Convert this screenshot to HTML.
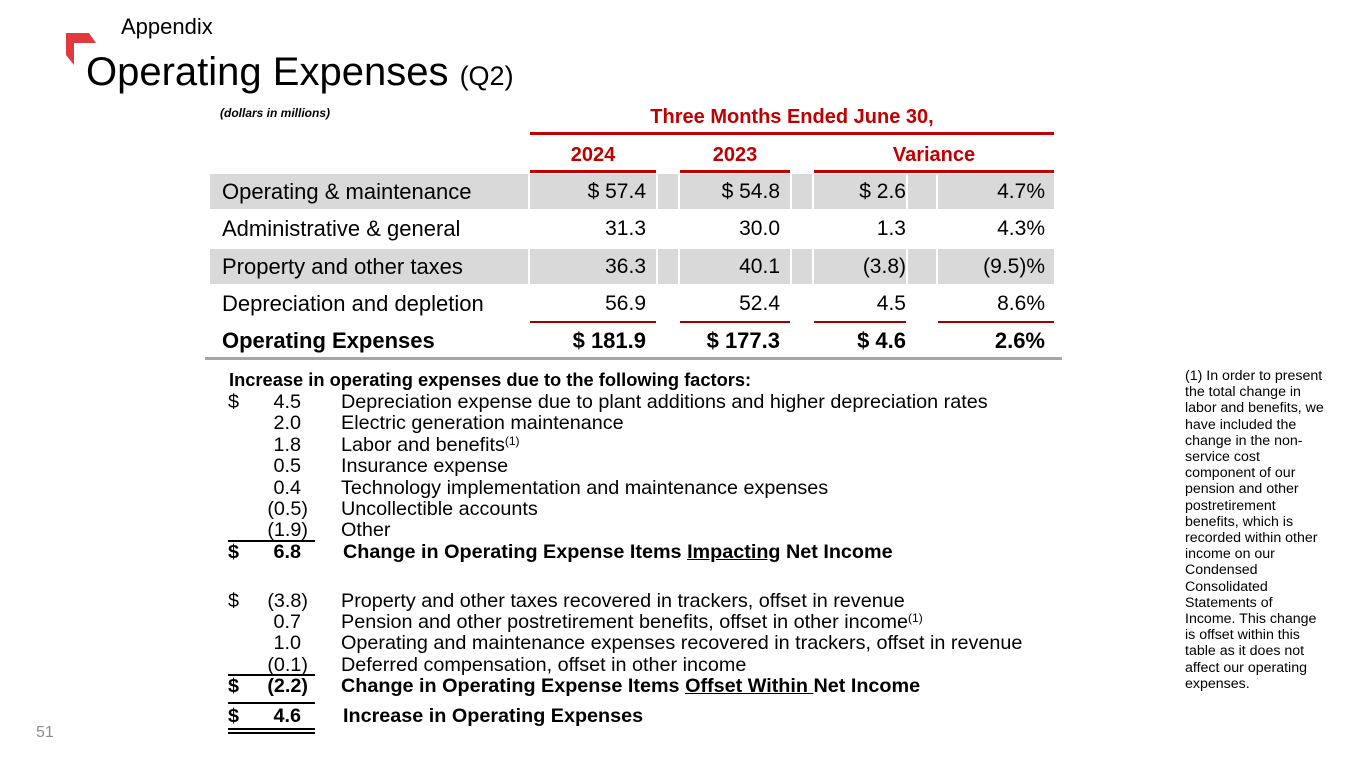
<!DOCTYPE html>
<html><head><meta charset="utf-8"><style>
*{margin:0;padding:0;box-sizing:border-box}
body{width:1365px;height:768px;background:#fff;position:relative;overflow:hidden;font-family:"Liberation Sans",Arial,sans-serif;color:#000}
.a{position:absolute;white-space:nowrap}
.cell{position:absolute;background:#d9d9d9}
.t{position:absolute;font-size:21px;line-height:24px;white-space:nowrap}
.l{font-size:22px}
.r{text-align:right}
.red{background:#c00000;position:absolute}
.f{position:absolute;font-size:19.8px;line-height:21px;white-space:nowrap}
.n{position:absolute;font-size:19.8px;line-height:21px;white-space:nowrap;text-align:right;width:80px}
sup{font-size:12px;line-height:0;vertical-align:6px}
.ul{position:absolute;height:1.5px;background:#000;left:228px;width:87px}
</style></head><body>
<div class="a" style="left:66px;top:33px;width:30px;height:32px">
<svg width="30" height="32"><polygon points="0,0 23,0 30,10 8,10 8,32 0,22" fill="#e03a3e"/></svg></div>
<div class="a" style="left:121px;top:14px;font-size:22px">Appendix</div>
<div class="a" style="left:86px;top:49px;font-size:40px;line-height:46px">Operating Expenses <span style="font-size:27px">(Q2)</span></div>
<div class="a" style="left:220px;top:106px;font-size:12px;font-style:italic;font-weight:bold">(dollars in millions)</div>

<div class="a" style="left:530px;width:524px;top:106px;text-align:center;color:#c00000;font-weight:bold;font-size:20px">Three Months Ended June 30,</div>
<div class="red" style="left:530px;top:132px;width:524px;height:3px"></div>
<div class="a" style="left:530px;width:126px;top:144px;text-align:center;color:#c00000;font-weight:bold;font-size:20px">2024</div>
<div class="a" style="left:680px;width:110px;top:144px;text-align:center;color:#c00000;font-weight:bold;font-size:20px">2023</div>
<div class="a" style="left:814px;width:240px;top:144px;text-align:center;color:#c00000;font-weight:bold;font-size:20px">Variance</div>
<div class="red" style="left:530px;top:170px;width:126px;height:3px"></div>
<div class="red" style="left:680px;top:170px;width:110px;height:3px"></div>
<div class="red" style="left:814px;top:170px;width:240px;height:3px"></div>

<div>
<div class="cell" style="left:210px;top:174px;width:318px;height:35px"></div>
<div class="cell" style="left:530px;top:174px;width:126px;height:35px"></div>
<div class="cell" style="left:658px;top:174px;width:20px;height:35px"></div>
<div class="cell" style="left:680px;top:174px;width:110px;height:35px"></div>
<div class="cell" style="left:792px;top:174px;width:20px;height:35px"></div>
<div class="cell" style="left:814px;top:174px;width:92px;height:35px"></div>
<div class="cell" style="left:908px;top:174px;width:28px;height:35px"></div>
<div class="cell" style="left:938px;top:174px;width:116px;height:35px"></div>
</div>
<div>
<div class="cell" style="left:210px;top:249px;width:318px;height:35px"></div>
<div class="cell" style="left:530px;top:249px;width:126px;height:35px"></div>
<div class="cell" style="left:658px;top:249px;width:20px;height:35px"></div>
<div class="cell" style="left:680px;top:249px;width:110px;height:35px"></div>
<div class="cell" style="left:792px;top:249px;width:20px;height:35px"></div>
<div class="cell" style="left:814px;top:249px;width:92px;height:35px"></div>
<div class="cell" style="left:908px;top:249px;width:28px;height:35px"></div>
<div class="cell" style="left:938px;top:249px;width:116px;height:35px"></div>
</div>

<div>
<div class="t l" style="left:222px;top:180px">Operating &amp; maintenance</div>
<div class="t r" style="left:530px;width:116px;top:180px">$ 57.4</div>
<div class="t r" style="left:680px;width:100px;top:180px">$ 54.8</div>
<div class="t r" style="left:814px;width:92px;top:180px">$ 2.6</div>
<div class="t r" style="left:938px;width:107px;top:180px">4.7%</div>
</div>
<div>
<div class="t l" style="left:222px;top:217px">Administrative &amp; general</div>
<div class="t r" style="left:530px;width:116px;top:217px">31.3</div>
<div class="t r" style="left:680px;width:100px;top:217px">30.0</div>
<div class="t r" style="left:814px;width:92px;top:217px">1.3</div>
<div class="t r" style="left:938px;width:107px;top:217px">4.3%</div>
</div>
<div>
<div class="t l" style="left:222px;top:255px">Property and other taxes</div>
<div class="t r" style="left:530px;width:116px;top:255px">36.3</div>
<div class="t r" style="left:680px;width:100px;top:255px">40.1</div>
<div class="t r" style="left:814px;width:92px;top:255px">(3.8)</div>
<div class="t r" style="left:938px;width:107px;top:255px">(9.5)%</div>
</div>
<div>
<div class="t l" style="left:222px;top:292px">Depreciation and depletion</div>
<div class="t r" style="left:530px;width:116px;top:292px">56.9</div>
<div class="t r" style="left:680px;width:100px;top:292px">52.4</div>
<div class="t r" style="left:814px;width:92px;top:292px">4.5</div>
<div class="t r" style="left:938px;width:107px;top:292px">8.6%</div>
</div>
<div class="red" style="left:530px;top:321px;width:126px;height:1.5px;background:#a00000"></div>
<div class="red" style="left:680px;top:321px;width:110px;height:1.5px;background:#a00000"></div>
<div class="red" style="left:814px;top:321px;width:92px;height:1.5px;background:#a00000"></div>
<div class="red" style="left:938px;top:321px;width:116px;height:1.5px;background:#a00000"></div>
<div>
<div class="t l" style="left:222px;top:329px;font-weight:bold">Operating Expenses</div>
<div class="t r" style="left:530px;width:116px;top:329px;font-weight:bold;font-size:22px">$ 181.9</div>
<div class="t r" style="left:680px;width:100px;top:329px;font-weight:bold;font-size:22px">$ 177.3</div>
<div class="t r" style="left:814px;width:92px;top:329px;font-weight:bold;font-size:22px">$ 4.6</div>
<div class="t r" style="left:938px;width:107px;top:329px;font-weight:bold;font-size:22px">2.6%</div>
</div>
<div class="a" style="left:205px;top:357px;width:857px;height:3px;background:#a6a6a6"></div>

<div class="f" style="left:229px;top:369px;font-weight:bold;font-size:18.3px">Increase in operating expenses due to the following factors:</div>
<div>
<div class="f" style="left:228px;top:392px">$</div>
<div class="n" style="left:221px;top:392px">4.5</div><div class="f" style="left:341px;top:392px">Depreciation expense due to plant additions and higher depreciation rates</div>
<div class="n" style="left:221px;top:413px">2.0</div><div class="f" style="left:341px;top:413px">Electric generation maintenance</div>
<div class="n" style="left:221px;top:435px">1.8</div><div class="f" style="left:341px;top:435px">Labor and benefits<sup>(1)</sup></div>
<div class="n" style="left:221px;top:456px">0.5</div><div class="f" style="left:341px;top:456px">Insurance expense</div>
<div class="n" style="left:221px;top:478px">0.4</div><div class="f" style="left:341px;top:478px">Technology implementation and maintenance expenses</div>
<div class="n" style="left:228px;top:499px">(0.5)</div><div class="f" style="left:341px;top:499px">Uncollectible accounts</div>
<div class="n" style="left:228px;top:520px">(1.9)</div><div class="f" style="left:341px;top:520px">Other</div>
<div class="ul" style="top:540px"></div>
<div class="f" style="left:228px;top:542px;font-weight:bold">$</div>
<div class="n" style="left:221px;top:542px;font-weight:bold">6.8</div><div class="f" style="left:343px;top:542px;font-weight:bold">Change in Operating Expense Items <u>Impacting</u> Net Income</div>

<div class="f" style="left:228px;top:591px">$</div>
<div class="n" style="left:228px;top:591px">(3.8)</div><div class="f" style="left:341px;top:591px">Property and other taxes recovered in trackers, offset in revenue</div>
<div class="n" style="left:221px;top:612px">0.7</div><div class="f" style="left:341px;top:612px">Pension and other postretirement benefits, offset in other income<sup>(1)</sup></div>
<div class="n" style="left:221px;top:633px">1.0</div><div class="f" style="left:341px;top:633px">Operating and maintenance expenses recovered in trackers, offset in revenue</div>
<div class="n" style="left:228px;top:655px">(0.1)</div><div class="f" style="left:341px;top:655px">Deferred compensation, offset in other income</div>
<div class="ul" style="top:674px"></div>
<div class="f" style="left:228px;top:676px;font-weight:bold">$</div>
<div class="n" style="left:228px;top:676px;font-weight:bold">(2.2)</div><div class="f" style="left:341px;top:676px;font-weight:bold">Change in Operating Expense Items <u>Offset Within </u>Net Income</div>
<div class="ul" style="top:702px"></div>
<div class="f" style="left:228px;top:706px;font-weight:bold">$</div>
<div class="n" style="left:221px;top:706px;font-weight:bold">4.6</div><div class="f" style="left:343px;top:706px;font-weight:bold">Increase in Operating Expenses</div>
<div class="ul" style="top:728px"></div>
<div class="ul" style="top:732px"></div>
</div>

<div class="a" style="left:1185px;top:368px;width:141px;font-size:14.2px;line-height:16.2px;white-space:normal">(1) In order to present the total change in labor and benefits, we have included the change in the non-service cost component of our pension and other postretirement benefits, which is recorded within other income on our Condensed Consolidated Statements of Income. This change is offset within this table as it does not affect our operating expenses.</div>

<div class="a" style="left:36px;top:724px;font-size:16px;color:#8c8c8c">51</div>
</body></html>
